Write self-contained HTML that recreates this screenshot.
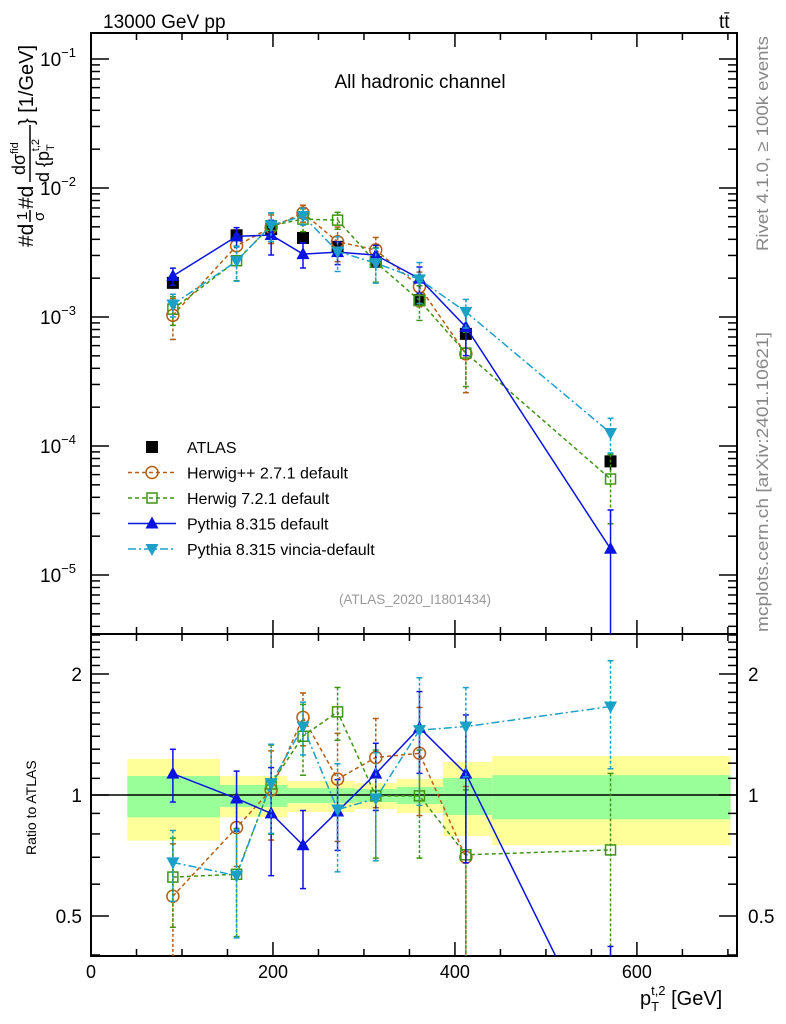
<!DOCTYPE html>
<html><head><meta charset="utf-8"><style>
body{margin:0;background:#fff;}
svg{display:block;font-family:"Liberation Sans",sans-serif;}
</style></head><body>
<svg id="c" width="786" height="1024" viewBox="0 0 786 1024">
<text x="103" y="28" font-size="19">13000 GeV pp</text>
<text x="719" y="28" font-size="19">tt̄</text>
<text x="420" y="88" font-size="19" text-anchor="middle">All hadronic channel</text>
<text x="415" y="604" font-size="13.5" fill="#999" text-anchor="middle">(ATLAS_2020_I1801434)</text>
<text transform="translate(768,251) rotate(-90)" font-size="17" fill="#888" textLength="215" lengthAdjust="spacingAndGlyphs">Rivet 4.1.0, ≥ 100k events</text>
<text transform="translate(768,632) rotate(-90)" font-size="17" fill="#888" textLength="300" lengthAdjust="spacingAndGlyphs">mcplots.cern.ch [arXiv:2401.10621]</text>
<g transform="translate(33,247) rotate(-90)">
 <text x="0" y="0" font-size="21">#d</text>
 <text x="27" y="-6" font-size="15">1</text>
 <line x1="25" x2="37" y1="-3" y2="-3" stroke="#000" stroke-width="1.5"/>
 <text x="26" y="11" font-size="15">σ</text>
 <text x="38" y="0" font-size="21">#d</text>
 <text x="72" y="-8" font-size="18">dσ<tspan font-size="11" dy="-7">fid</tspan></text>
 <line x1="65" x2="122" y1="-3" y2="-3" stroke="#000" stroke-width="1.5"/>
 <text x="65" y="16" font-size="18">d {p<tspan font-size="11" dy="5">T</tspan><tspan font-size="11" dx="-7" dy="-15">t,2</tspan></text>
 <text x="122" y="0" font-size="20">} [1/GeV]</text>
</g>
<text transform="translate(36,855) rotate(-90)" font-size="14">Ratio to ATLAS</text>
<text x="640" y="1005" font-size="20">p<tspan font-size="13" dy="6">T</tspan><tspan font-size="13" dx="-8" dy="-16">t,2</tspan><tspan dy="10"> [GeV]</tspan></text>
<g id="g"></g>
</svg>
<script>
const xs=[90,160,198,233,271,313,361,412,571];
const atlas=[1.84e-3,4.3e-3,4.8e-3,4.1e-3,3.5e-3,2.67e-3,1.35e-3,7.4e-4,7.6e-5];
const atlasErr=[0.1,0.1,0.08,0.08,0.08,0.08,0.1,0.12,0.15];
const ratioHerwigPP=[0.56,0.83,1.03,1.56,1.095,1.24,1.27,0.70];
const errHerwigPP=[0.35,0.2,0.25,0.15,0.3,0.25,0.3,0.5];
const ratioHerwig7=[0.625,0.635,1.065,1.40,1.61,0.995,0.995,0.71,0.73];
const errHerwig7=[0.25,0.3,0.25,0.2,0.15,0.3,0.3,0.45,0.55];
const ratioPythia=[1.13,0.98,0.90,0.75,0.91,1.13,1.47,1.13,0.21];
const errPythia=[0.15,0.17,0.3,0.22,0.2,0.19,0.23,0.4,1.0];
const ratioVincia=[0.68,0.63,1.07,1.48,0.92,0.98,1.45,1.48,1.66];
const errVincia=[0.2,0.3,0.25,0.15,0.3,0.3,0.35,0.25,0.3];
const binEdges=[40,142,216,290,336,387,441,703];
const yellowHi=[1.23,1.115,1.083,1.071,1.096,1.208,1.25];
const yellowLo=[0.77,0.88,0.907,0.923,0.902,0.79,0.75];
const greenHi=[1.115,1.059,1.04,1.035,1.047,1.102,1.12];
const greenLo=[0.88,0.934,0.955,0.961,0.95,0.892,0.87];
const xTicks=[0,200,400,600];

const L=91,R=737,T=33,MB=634,B=956;
const X=v=>L+v*(R-L)/710;
const Ym=v=>317-(Math.log10(v)+3)*129;
const Yr=v=>795-Math.log10(v)*402;
const NS='http://www.w3.org/2000/svg';
const g=document.getElementById('g');
function mk(t,a,p){const e=document.createElementNS(NS,t);for(const k in a)e.setAttribute(k,a[k]);(p||g).appendChild(e);return e;}

for(let i=0;i<yellowHi.length;i++){
 const x0=X(binEdges[i]),x1=X(binEdges[i+1]);
 const y=mk('rect',{x:x0,y:Yr(yellowHi[i]),width:x1-x0,height:Yr(yellowLo[i])-Yr(yellowHi[i]),fill:'#ffff99'});
 
 
 const gr=mk('rect',{x:x0,y:Yr(greenHi[i]),width:x1-x0,height:Yr(greenLo[i])-Yr(greenHi[i]),fill:'#99ff99'});
 
 
}
const one=mk('line',{x1:L,x2:R,y1:Yr(1),y2:Yr(1),stroke:'#000','stroke-width':1.5});



const f1=mk('rect',{x:L,y:T,width:R-L,height:MB-T,fill:'none',stroke:'#000','stroke-width':2});


const f2=mk('rect',{x:L,y:MB,width:R-L,height:B-MB,fill:'none',stroke:'#000','stroke-width':2});



for(let v=0;v<=700;v+=50){
 const big=v%200===0, len=big?14:7;
 for(const [y0,d] of [[T,1],[MB,-1],[MB,1],[B,-1]]) mk('line',{x1:X(v),x2:X(v),y1:y0,y2:y0+d*len,stroke:'#000','stroke-width':1.5});
}
xTicks.forEach(v=>{const t=mk('text',{x:X(v),y:978,'font-size':18,'text-anchor':'middle'});t.textContent=v;
 
 });
for(let e=-6;e<=-1;e++)for(let m=1;m<10;m++){const v=m*Math.pow(10,e),y=Ym(v);if(y<T||y>MB)continue;const len=m===1?18:9;
 mk('line',{x1:L,x2:L+len,y1:y,y2:y,stroke:'#000','stroke-width':1.5});mk('line',{x1:R,x2:R-len,y1:y,y2:y,stroke:'#000','stroke-width':1.5});}
for(let e=-5;e<=-1;e++){const t=mk('text',{x:40,y:Ym(Math.pow(10,e))+7,'font-size':19});t.innerHTML='10<tspan font-size="13" dy="-9">−'+(-e)+'</tspan>';
 
 }
for(let v=0.4;v<=2.5;v=Math.round((v+0.1)*10)/10){const y=Yr(v);if(y<MB||y>B)continue;const big=(v===0.5||v===1||v===2);const len=big?18:9;
 mk('line',{x1:L,x2:L+len,y1:y,y2:y,stroke:'#000','stroke-width':1.5});mk('line',{x1:R,x2:R-len,y1:y,y2:y,stroke:'#000','stroke-width':1.5});}
[[2,'2'],[1,'1'],[0.5,'0.5']].forEach(([v,s])=>{const a=mk('text',{x:82,y:Yr(v)+7,'font-size':19,'text-anchor':'end'});a.textContent=s;
 
 
 const b=mk('text',{x:748,y:Yr(v)+7,'font-size':19});b.textContent=s;
 
 });

function marker(p,type,x,y,col){
 const s=6;
 if(type==='sq') return mk('rect',{x:x-s,y:y-s,width:2*s,height:2*s,fill:'#000'},p);
 if(type==='osq') return mk('rect',{x:x-s+1,y:y-s+1,width:2*s-2,height:2*s-2,fill:'none',stroke:col,'stroke-width':1.5},p);
 if(type==='oc') return mk('circle',{cx:x,cy:y,r:6,fill:'none',stroke:col,'stroke-width':1.5},p);
 if(type==='tu') return mk('path',{d:`M${x} ${y-7}L${x+6.5} ${y+5}L${x-6.5} ${y+5}Z`,fill:col},p);
 if(type==='td') return mk('path',{d:`M${x} ${y+7}L${x+6.5} ${y-5}L${x-6.5} ${y-5}Z`,fill:col},p);
}
const series=[
 {name:'herwigpp',r:ratioHerwigPP,e:errHerwigPP,col:'#b85c10',m:'oc',dash:'4,3'},
 {name:'herwig7',r:ratioHerwig7,e:errHerwig7,col:'#3f9414',m:'osq',dash:'4,3'},
 {name:'pythia',r:ratioPythia,e:errPythia,col:'#0a14e0',m:'tu',dash:''},
 {name:'vincia',r:ratioVincia,e:errVincia,col:'#1ba0c8',m:'td',dash:'8,3,2,3'},
];
function drawPanel(panel,Yf,top,bot){
 if(panel==='main'){
  const ga=mk('g',{});
  
  
  atlas.forEach((v,i)=>{const x=X(xs[i]);mk('line',{x1:x,x2:x,y1:Yf(v*(1+atlasErr[i])),y2:Yf(v*(1-atlasErr[i])),stroke:'#000','stroke-width':1.5},ga);marker(ga,'sq',x,Yf(v));});
 }
 series.forEach(s=>{
  const gs=mk('g',{});
  
  
  const val=i=>panel==='main'?s.r[i]*atlas[i]:s.r[i];
  const pts=s.r.map((_,i)=>[X(xs[i]),Yf(val(i))]);
  const cp=mk('clipPath',{id:'cp'+panel+s.name},gs);mk('rect',{x:L,y:top,width:R-L,height:bot-top},cp);
  const gg=mk('g',{'clip-path':`url(#cp${panel}${s.name})`},gs);
  mk('polyline',{points:pts.map(p=>p.join(',')).join(' '),fill:'none',stroke:s.col,'stroke-width':1.5,'stroke-dasharray':s.dash},gg);
  s.r.forEach((_,i)=>{const v=val(i),lo=v*(1-s.e[i]),hi=v*(1+s.e[i]);
   const y1=Yf(hi),y2=lo>0?Yf(lo):bot+5,x=pts[i][0];
   mk('line',{x1:x,x2:x,y1:y1,y2:y2,stroke:s.col,'stroke-width':1.5,'stroke-dasharray':s.dash?'3,2':''},gg);
   mk('line',{x1:x-3,x2:x+3,y1:y1,y2:y1,stroke:s.col,'stroke-width':1.5},gg);
   if(lo>0)mk('line',{x1:x-3,x2:x+3,y1:y2,y2:y2,stroke:s.col,'stroke-width':1.5},gg);
   if(pts[i][1]>=top&&pts[i][1]<=bot)marker(gg,s.m,x,pts[i][1],s.col);});
 });
}
drawPanel('main',Ym,T,MB);
drawPanel('ratio',Yr,MB,B);

const leg=[['ATLAS','sq','#000',''],['Herwig++ 2.7.1 default','oc','#b85c10','4,3'],['Herwig 7.2.1 default','osq','#3f9414','4,3'],['Pythia 8.315 default','tu','#0a14e0',''],['Pythia 8.315 vincia-default','td','#1ba0c8','8,3,2,3']];
leg.forEach((l,i)=>{const y=447+i*25.5;const gl=mk('g',{});
 
 
 if(i>0)mk('line',{x1:128,x2:176,y1:y,y2:y,stroke:l[2],'stroke-width':1.5,'stroke-dasharray':l[3]},gl);
 marker(gl,l[1],152,y,l[2]);
 const t=mk('text',{x:187,y:y+6,'font-size':16},gl);t.textContent=l[0];});
</script>
</body></html>
